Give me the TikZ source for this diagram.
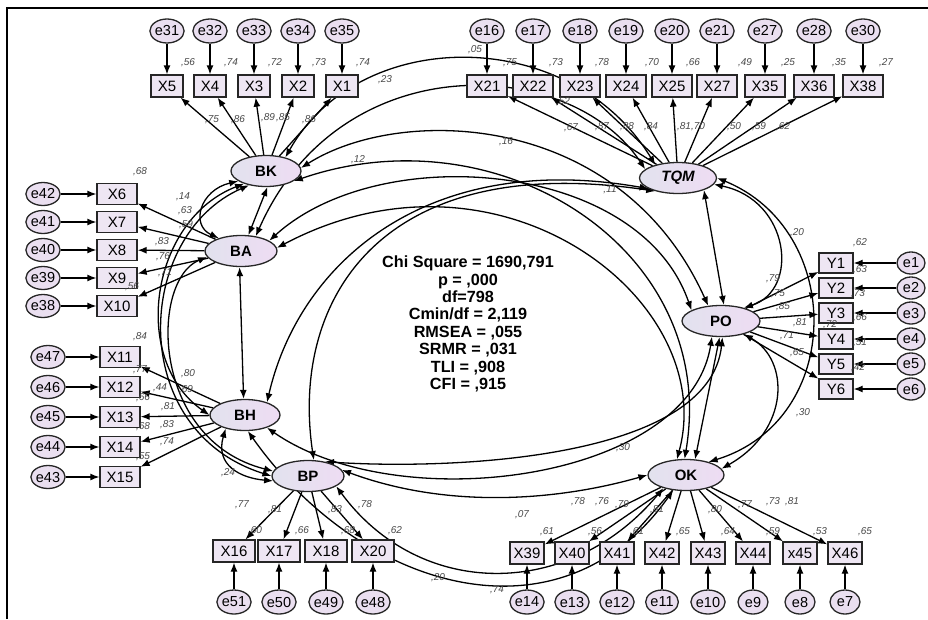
\documentclass[tikz,border=0pt]{standalone}
\usepackage{fontspec}
\setmainfont{Liberation Sans}
\usetikzlibrary{shapes.geometric,arrows.meta}
\definecolor{boxfill}{HTML}{EEE6F3}
\definecolor{errfill}{HTML}{EADFF0}
\definecolor{latL}{HTML}{E2E2EE}
\definecolor{latR}{HTML}{EEDCF3}
\definecolor{lblc}{HTML}{484848}
\pgfdeclarelayer{bg}
\pgfsetlayers{bg,main}
\begin{document}
\begin{tikzpicture}[x=1pt,y=-1pt,
  >={Latex[length=9pt,width=7pt]},
  obs/.style={rectangle,draw=black!85,line width=1.3pt,fill=boxfill,inner sep=0pt,minimum height=22pt,font=\fontsize{15}{15}\selectfont},
  err/.style={ellipse,draw=black!85,line width=1.3pt,fill=errfill,inner sep=0pt,minimum width=30pt,minimum height=24pt,font=\fontsize{14.5}{14.5}\selectfont},
  lat/.style={ellipse,draw=black!85,line width=1.3pt,left color=latL,right color=latR,inner sep=0pt,minimum width=70pt,minimum height=31pt,font=\bfseries\fontsize{15}{15}\selectfont},
  lb/.style={inner sep=0pt,text=lblc,font=\itshape\fontsize{10}{10}\selectfont},
  ld/.style={->,line width=1.3pt},
  cv/.style={<->,line width=1.3pt},
  fitstat/.style={inner sep=0pt,align=center,font=\bfseries\fontsize{16.2}{17.4}\selectfont}
]
\useasboundingbox (0,0) rectangle (928,619);
\draw[line width=1.8pt] (7,619) -- (7,8) -- (928,8);

% latent variables
\node[lat] (BK) at (266,171) {BK};
\node[lat,minimum width=77pt,font=\bfseries\itshape\fontsize{15}{15}\selectfont] (TQM) at (678,178) {TQM};
\node[lat,minimum width=72pt] (BA) at (241,251) {BA};
\node[lat] (BH) at (245,415) {BH};
\node[lat,minimum width=72pt] (BP) at (308,476) {BP};
\node[lat,minimum width=78pt] (PO) at (721,321) {PO};
\node[lat,minimum width=76pt] (OK) at (686,475) {OK};

\node[fitstat] (fit) at (468,324) {Chi Square = 1690,791\\p = ,000\\df=798\\Cmin/df = 2,119\\RMSEA = ,055\\SRMR = ,031\\TLI = ,908\\CFI = ,915};

% BK indicators
\foreach \i/\x/\e/\r in {5/167/31/56,4/210/32/74,3/254/33/72,2/298/34/73,1/342/35/74}{
  \node[err] (e\e) at (\x,31) {e\e};
  \node[obs,minimum width=32pt] (X\i) at (\x,86) {X\i};
  \node[lb] (r\i) at (\x+21,63) {,\r};
}
% TQM indicators
\foreach \i/\x/\e/\r/\rx in {21/487/16/75/510,22/533/17/73/556,23/580/18/78/602,24/626/19/70/652,25/672/20/66/693,27/717/21/49/745,35/765/27/25/788,36/814/28/35/839,38/863/30/27/886}{
  \node[err] (e\e) at (\x,31) {e\e};
  \node[obs,minimum width=40pt] (X\i) at (\x,86) {X\i};
  \node[lb] (r\i) at (\rx,63) {,\r};
}
% BA indicators
\foreach \i/\y/\e in {6/194/42,7/222/41,8/250/40,9/278/39,10/306/38}{
  \node[err,minimum height=23pt] (e\e) at (43,\y) {e\e};
  \node[obs,minimum width=40pt,minimum height=21pt] (X\i) at (117,\y) {X\i};
}
% BH indicators
\foreach \i/\y/\e in {11/357/47,12/387/46,13/417/45,14/447/44,15/477/43}{
  \node[err,minimum height=23pt] (e\e) at (48,\y) {e\e};
  \node[obs,minimum width=40pt,minimum height=21pt] (X\i) at (120,\y) {X\i};
}
% BP indicators
\foreach \i/\x/\e in {16/234/51,17/279/50,18/326/49,20/373/48}{
  \node[err] (e\e) at (\x,602) {e\e};
  \node[obs,minimum width=42pt] (X\i) at (\x,551) {X\i};
}
% OK indicators
\foreach \i/\x/\e in {39/527/14,40/572/13,41/617/12,42/662/11,43/708/10,44/753/9,45/800/8,46/845/7}{
  \node[err] (e\e) at (\x,602) {e\e};
  \node[obs,minimum width=34pt] (X\i) at (\x,553) {\ifnum\i=45 x\else X\fi\i};
}
% PO indicators
\foreach \i/\y in {1/263,2/288,3/313,4/339,5/364,6/389}{
  \node[err,minimum width=28pt,minimum height=22pt] (e\i) at (911,\y) {e\i};
  \node[obs,minimum width=34pt,minimum height=20pt] (Y\i) at (836,\y) {Y\i};
}

% labels
\foreach \t/\x/\y [count=\k] in {
 75/212/120, 86/238/120, 89/268/118, 85/283/118, 86/309/120,
 52/563/102, 67/571/128, 87/602/127, 88/627/127, 84/651/127, 81/684/127, 70/698/127, 50/734/127, 59/759/127, 62/783/127,
 05/475/50, 23/385/80, 16/506/142, 12/358/160, 11/610/190, 20/797/233, 30/803/413, 30/623/448, 24/228/473, 20/438/578, 74/497/590, 07/522/515,
 68/140/172, 14/183/197, 63/185/211, 59/186/225, 83/162/242, 76/163/257, 71/165/273, 56/132/287,
 84/140/337, 77/140/370, 80/188/374, 44/160/388, 69/186/390, 66/143/398, 81/168/407, 83/167/425, 68/143/427, 74/167/442, 55/143/457,
 77/242/505, 81/275/510, 83/335/510, 78/365/505, 60/255/531, 66/302/531, 68/348/531, 62/395/531,
 78/578/502, 76/602/502, 79/622/505, 81/657/510, 80/715/510, 77/745/505, 73/773/502, 81/792/502,
 61/547/532, 56/595/532, 61/637/532, 65/683/532, 64/728/532, 59/773/532, 53/820/532, 65/865/532,
 62/860/243, 79/773/279, 75/778/294, 85/783/307, 81/800/323, 71/787/336, 65/797/353, 72/830/325,
 63/860/270, 73/858/294, 66/860/318, 51/860/343, 42/858/368}{
  \node[lb] (lb\k) at (\x,\y) {,\t};
}

\begin{pgfonlayer}{bg}
% measurement paths
\foreach \i/\e in {5/31,4/32,3/33,2/34,1/35}{\draw[ld] (e\e) -- (X\i); \draw[ld] (BK) -- (X\i);}
\foreach \i/\e in {21/16,22/17,23/18,24/19,25/20,27/21,35/27,36/28,38/30}{\draw[ld] (e\e) -- (X\i); \draw[ld] (TQM) -- (X\i);}
\foreach \i/\e in {6/42,7/41,8/40,9/39,10/38}{\draw[ld] (e\e) -- (X\i); \draw[ld] (BA) -- (X\i);}
\foreach \i/\e in {11/47,12/46,13/45,14/44,15/43}{\draw[ld] (e\e) -- (X\i); \draw[ld] (BH) -- (X\i);}
\foreach \i/\e in {16/51,17/50,18/49,20/48}{\draw[ld] (e\e) -- (X\i); \draw[ld] (BP) -- (X\i);}
\foreach \i/\e in {39/14,40/13,41/12,42/11,43/10,44/9,45/8,46/7}{\draw[ld] (e\e) -- (X\i); \draw[ld] (OK) -- (X\i);}
\foreach \i in {1,...,6}{\draw[ld] (e\i) -- (Y\i); \draw[ld] (PO) -- (Y\i);}

% covariances - left
\draw[cv] (BK.200) .. controls (200,190) and (190,225) .. (BA.150);
\draw[cv] (BK.210) .. controls (150,220) and (130,360) .. (BH.180);
\draw[cv] (BK.220) .. controls (135,235) and (125,430) .. (BP.180);
\draw[cv] (BA.190) .. controls (150,280) and (150,440) .. (BP.172);
\draw[cv] (BH.215) .. controls (215,465) and (240,478) .. (BP.188);
\draw[cv] (BK.-85) -- (BA.65);
\draw[cv] (BA.-95) -- (BH.95);
% top
\draw[cv] (BK.35) .. controls (360,25) and (570,25) .. (TQM.150);
\draw[cv] (BA.45) .. controls (340,45) and (570,55) .. (TQM.165);
\draw[cv] (BK.5) .. controls (400,105) and (620,110) .. (PO.130);
\draw[cv] (BA.20) .. controls (380,140) and (640,160) .. (PO.160);
\draw[cv] (BK.-20) .. controls (500,110) and (720,250) .. (OK.95);
\draw[cv] (BA.5) .. controls (500,130) and (720,300) .. (OK.120);
\draw[cv] (TQM.200) .. controls (430,150) and (300,260) .. (BH.30);
\draw[cv] (TQM.210) .. controls (380,150) and (290,300) .. (BP.70);
% right
\draw[cv] (TQM.-10) .. controls (790,200) and (800,290) .. (PO.30);
\draw[cv] (TQM.0) .. controls (845,230) and (845,420) .. (OK.30);
\draw[cv] (PO.-30) .. controls (790,360) and (790,430) .. (OK.10);
\draw[cv] (TQM.-25) -- (PO.80);
\draw[cv] (PO.-95) -- (OK.60);
% bottom
\draw[cv] (BH.-30) .. controls (400,520) and (690,480) .. (PO.-120);
\draw[cv] (BP.40) .. controls (450,470) and (710,460) .. (PO.-85);
\draw[cv] (BH.-80) .. controls (360,590) and (560,650) .. (OK.-130);
\draw[cv] (BP.10) .. controls (450,510) and (560,500) .. (OK.180);
\draw[cv] (BP.-20) .. controls (420,600) and (570,600) .. (OK.-150);
\end{pgfonlayer}
\end{tikzpicture}
\end{document}
